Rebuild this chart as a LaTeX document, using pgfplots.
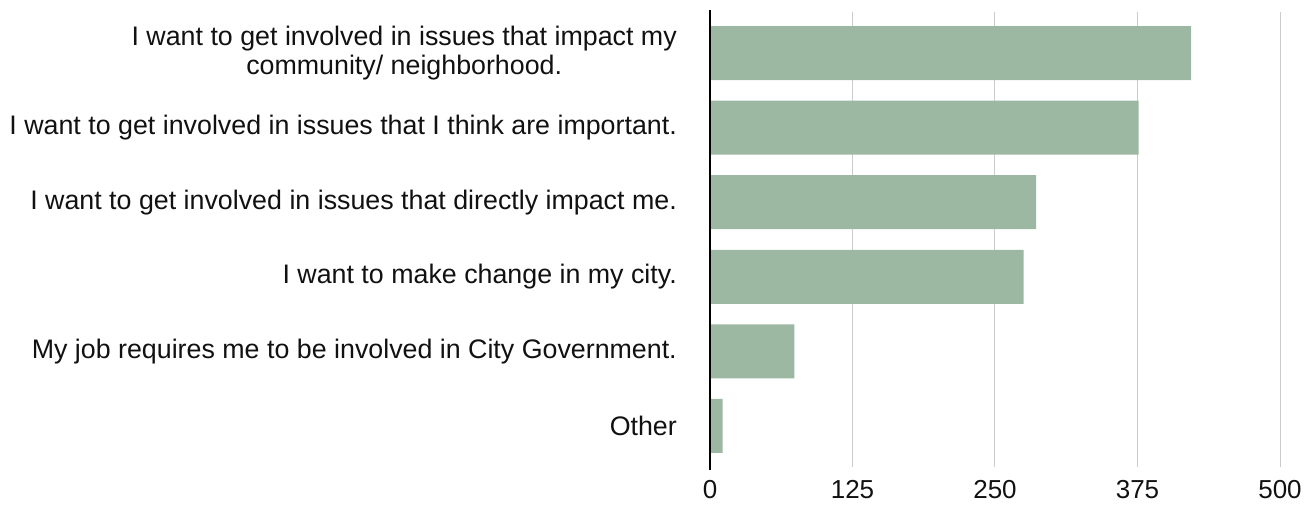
\documentclass[border=0pt]{standalone}
\usepackage{fontspec}
\setmainfont{Liberation Sans}
\usepackage{pgfplots}
\pgfplotsset{compat=1.18}
\definecolor{barc}{HTML}{9DB8A2}
\definecolor{gridc}{HTML}{CCCCCC}
\definecolor{txt}{HTML}{111111}
\begin{document}
\begin{tikzpicture}
\useasboundingbox (0,0) rectangle (1310pt,504pt);
\begin{axis}[
  at={(710pt,37pt)}, anchor=south west,
  scale only axis, width=570pt, height=455pt,
  xbar, bar width=54pt, bar shift=0pt,
  xmin=0, xmax=500,
  ymin=-0.55, ymax=5.55, y dir=reverse,
  xtick={0,125,250,375,500},
  ytick={0,1,2,3,4,5},
  yticklabels={{I want to get involved in issues that impact my\\community/ neighborhood.},
    {I want to get involved in issues that I think are important.},
    {I want to get involved in issues that directly impact me.},
    {I want to make change in my city.},
    {My job requires me to be involved in City Government.},
    {Other}},
  axis line style={draw=none},
  major tick length=0pt,
  xmajorgrids, grid style={gridc, line width=1pt},
  clip=false,
  /pgf/number format/assume math mode=true,
  xticklabel style={font=\fontsize{26}{28}\selectfont, text=txt, anchor=north, inner sep=0pt, yshift=-13pt},
  yticklabel style={font=\fontsize{26.8}{29}\selectfont, text=txt, align=center, anchor=east, inner sep=0pt, xshift=-33pt},
]
\addplot[fill=barc, draw=none] coordinates {(422,0) (376,1) (286,2) (275,3) (74,4) (11,5)};
\draw[black, line width=2.5pt] (axis cs:0,-0.58) -- (axis cs:0,5.59);
\end{axis}
\end{tikzpicture}
\end{document}
